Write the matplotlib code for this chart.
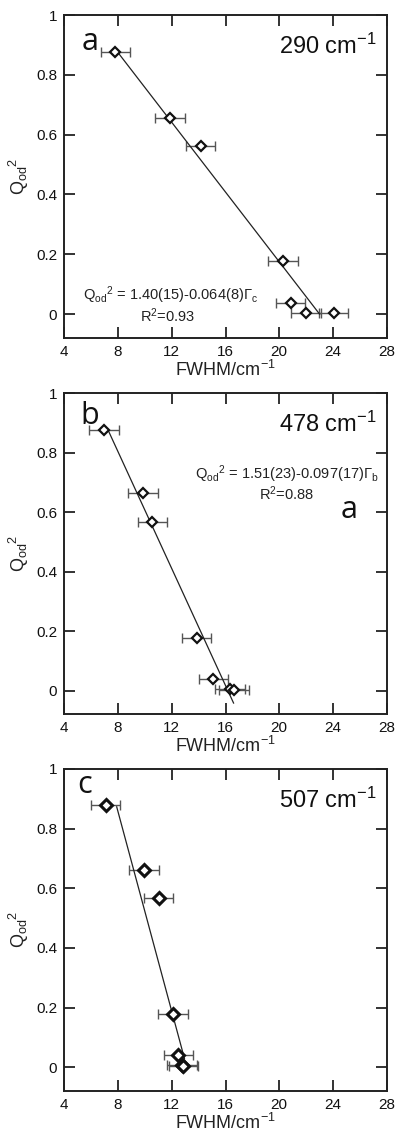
import matplotlib
matplotlib.use("Agg")
import matplotlib.pyplot as plt

plt.rcParams['font.family'] = ['Liberation Sans', 'DejaVu Sans']
plt.rcParams['mathtext.fontset'] = 'custom'
plt.rcParams['mathtext.rm'] = 'Liberation Sans'
plt.rcParams['mathtext.it'] = 'Liberation Sans:italic'
plt.rcParams['mathtext.bf'] = 'Liberation Sans:bold'
plt.rcParams['mathtext.default'] = 'regular'

# ---- data ----
fwhm_290 = [7.8, 11.85, 14.15, 20.3, 20.85, 22.0, 24.05]
q_290 = [0.876, 0.655, 0.562, 0.176, 0.038, 0.003, 0.004]
err_290 = [1.1, 1.1, 1.1, 1.1, 1.1, 1.1, 1.1]
fit_x_290 = [7.9, 23.0]
fit_y_290 = [0.880, 0.0]

fwhm_478 = [6.95, 9.85, 10.55, 13.85, 15.1, 16.35, 16.65]
q_478 = [0.877, 0.663, 0.568, 0.178, 0.039, 0.005, 0.002]
err_478 = [1.1, 1.1, 1.1, 1.1, 1.1, 1.1, 1.1]
fit_x_478 = [7.23, 16.6]
fit_y_478 = [0.879, -0.042]

fwhm_507 = [7.08, 9.93, 11.02, 12.11, 12.5, 12.78, 12.86]
q_507 = [0.879, 0.660, 0.566, 0.178, 0.040, 0.006, 0.003]
err_507 = [1.1, 1.1, 1.1, 1.1, 1.1, 1.1, 1.1]
fit_x_507 = [7.9, 12.95]
fit_y_507 = [0.873, 0.028]

x_ticks = [4, 8, 12, 16, 20, 24, 28]
y_ticks = [0, 0.2, 0.4, 0.6, 0.8, 1]
y_ticklabels = ['0', '0.2', '0.4', '0.6', '0.8', '1']

fig = plt.figure(figsize=(3.96, 11.37), dpi=100)

axes_rects = [
    [0.1624, 0.7030, 0.8141, 0.2838],
    [0.1624, 0.3720, 0.8141, 0.2821],
    [0.1624, 0.0407, 0.8141, 0.2830],
]

panels = [
    dict(x=fwhm_290, y=q_290, e=err_290, fx=fit_x_290, fy=fit_y_290,
         letter='a', lpos=(0.054, 0.917), label='290 cm$^{-1}$', ms=5, mew=1.6),
    dict(x=fwhm_478, y=q_478, e=err_478, fx=fit_x_478, fy=fit_y_478,
         letter='b', lpos=(0.050, 0.930), label='478 cm$^{-1}$', ms=5, mew=1.6),
    dict(x=fwhm_507, y=q_507, e=err_507, fx=fit_x_507, fy=fit_y_507,
         letter='c', lpos=(0.040, 0.950), label='507 cm$^{-1}$', ms=6, mew=2.2),
]

axs = []
for rect, p in zip(axes_rects, panels):
    ax = fig.add_axes(rect)
    axs.append(ax)
    ax.errorbar(p['x'], p['y'], xerr=p['e'], fmt='none', ecolor='#555555',
                elinewidth=1.0, capsize=3.6, capthick=1.0, zorder=2)
    ax.plot(p['fx'], p['fy'], color='#222222', lw=0.9, zorder=3)
    ax.plot(p['x'], p['y'], linestyle='none', marker='D', ms=p['ms'],
            mfc='white', mec='#111111', mew=p['mew'], zorder=4)
    ax.set_xlim(4, 28)
    ax.set_ylim(-0.079, 1.0)
    ax.set_xticks(x_ticks)
    ax.set_yticks(y_ticks)
    ax.set_yticklabels(y_ticklabels)
    ax.tick_params(direction='in', length=8, width=1.2, top=True, right=True,
                   labelsize=11, pad=5, colors='#111111')
    for s in ax.spines.values():
        s.set_linewidth(1.4)
        s.set_color('#222222')
    ax.set_xlabel('FWHM/cm$^{-1}$', fontsize=13, labelpad=1, color='#222222')
    ax.set_ylabel(r'Q$_{\mathrm{od}}$$^{2}$', fontsize=13, labelpad=4, color='#222222')
    ax.text(p['lpos'][0], p['lpos'][1], p['letter'], transform=ax.transAxes,
            fontsize=22, family=['Open Sans', 'DejaVu Sans'],
            ha='left', va='center', color='#111111')
    ax.text(0.969, 0.902, p['label'], transform=ax.transAxes, fontsize=17,
            ha='right', va='center', color='#111111')

axs[0].text(0.33, 0.132, r'Q$_{\mathrm{od}}$$^{2}$ = 1.40(15)-0.064(8)$\Gamma_{\mathrm{c}}$',
            transform=axs[0].transAxes, fontsize=10.5, ha='center', va='center',
            color='#222222')
axs[0].text(0.32, 0.067, r'R$^{2}$=0.93', transform=axs[0].transAxes,
            fontsize=10.5, ha='center', va='center', color='#222222')

axs[1].text(0.69, 0.748, r'Q$_{\mathrm{od}}$$^{2}$ = 1.51(23)-0.097(17)$\Gamma_{\mathrm{b}}$',
            transform=axs[1].transAxes, fontsize=10.5, ha='center', va='center',
            color='#222222')
axs[1].text(0.69, 0.686, r'R$^{2}$=0.88', transform=axs[1].transAxes,
            fontsize=10.5, ha='center', va='center', color='#222222')
axs[1].text(0.883, 0.636, 'a', transform=axs[1].transAxes, fontsize=22,
            family=['Open Sans', 'DejaVu Sans'], ha='center', va='center',
            color='#111111')

fig.savefig('out.png', dpi=100)
